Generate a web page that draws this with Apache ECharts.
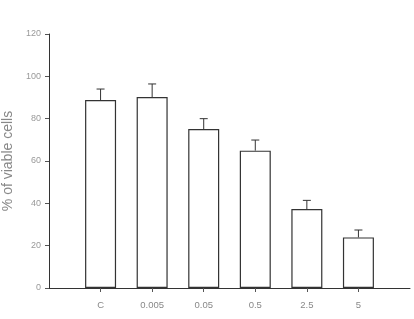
<!DOCTYPE html>
<html><head><meta charset="utf-8">
<script src="https://cdn.jsdelivr.net/npm/echarts@6/dist/echarts.min.js"></script>
<style>html,body{margin:0;padding:0;background:#fff}#c{width:414px;height:319px}</style>
</head><body><div id="c"></div>
<script>
const categories = ['', 'C', '0.005', '0.05', '0.5', '2.5', '5', ''];
const values = [null, 88.8, 90.2, 75.1, 64.9, 37.3, 23.9, null];
const errors = [null, 5.2, 6.2, 4.9, 5.0, 4.1, 3.5, null];
const yTicks = [0, 20, 40, 60, 80, 100, 120];

const errData = [];
categories.forEach((c, i) => { if (values[i] != null) errData.push([i, values[i], values[i] + errors[i]]); });

const chart = echarts.init(document.getElementById('c'), null, {renderer: 'canvas'});
chart.setOption({
  animation: false,
  backgroundColor: '#fff',
  grid: {left: 49, right: 4, top: 34, bottom: 31, containLabel: false, outerBoundsMode: 'none'},
  xAxis: {
    type: 'category', data: categories, boundaryGap: false,
    axisLine: {lineStyle: {color: '#333', width: 1}},
    axisTick: {length: 4, lineStyle: {color: '#555'}, interval: (i) => i > 0 && i < categories.length - 1},
    axisLabel: {color: '#888', fontSize: 9.5, fontFamily: 'Liberation Sans', margin: 12,
      interval: 0},
    splitLine: {show: false}
  },
  yAxis: {
    type: 'value', min: 0, max: 120, interval: 20,
    name: '% of viable cells', nameLocation: 'middle', nameGap: 29, nameRotate: 90,
    nameTextStyle: {color: '#888', fontSize: 14, fontFamily: 'Liberation Sans'},
    axisLine: {show: true, lineStyle: {color: '#333', width: 1}},
    axisTick: {show: true, length: 4, lineStyle: {color: '#555'}},
    axisLabel: {color: '#999', fontSize: 9, fontFamily: 'Liberation Sans', margin: 8,
      formatter: (v) => yTicks.includes(v) ? String(v) : ''},
    splitLine: {show: false}
  },
  series: [
    {type: 'bar', data: values, barWidth: 31,
      itemStyle: {color: '#fff', borderColor: '#333', borderWidth: 1.2}},
    {type: 'custom', data: errData, z: 5,
      renderItem: (params, api) => {
        const x = api.value(0);
        const p0 = api.coord([x, api.value(1)]);
        const p1 = api.coord([x, api.value(2)]);
        const hw = 4;
        return {type: 'group', children: [
          {type: 'line', shape: {x1: p0[0], y1: p0[1], x2: p1[0], y2: p1[1]}, style: {stroke: '#333', lineWidth: 1}},
          {type: 'line', shape: {x1: p1[0] - hw, y1: p1[1], x2: p1[0] + hw, y2: p1[1]}, style: {stroke: '#333', lineWidth: 1}}
        ]};
      }}
  ]
});
</script></body></html>
